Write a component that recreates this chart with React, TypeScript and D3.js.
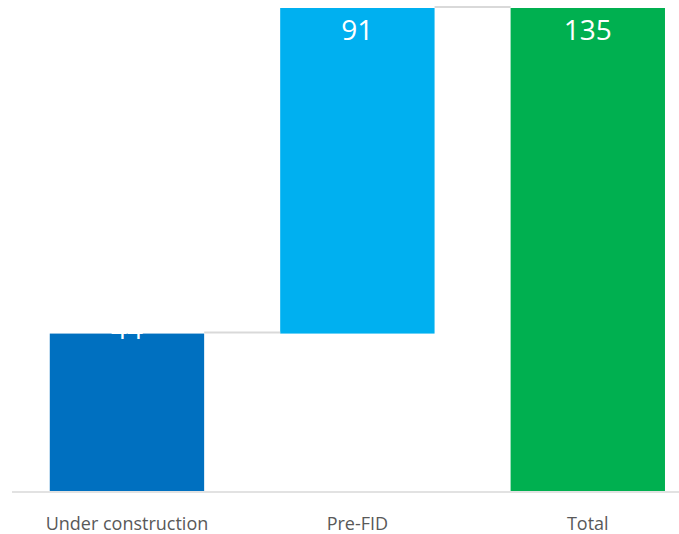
import React from "react";
import * as d3 from "d3";

// Waterfall: two stages stacking up to the total
const categories = ["Under construction", "Pre-FID", "Total"];
const stepValues = [44, 91, 135];
const isTotal = [false, false, true];
const barColors = ["#0070C0", "#00B0F0", "#00B050"];

const W = 679;
const H = 534;

export default function App() {
  // running base for each step bar
  const bases: number[] = [];
  let run = 0;
  stepValues.forEach((v, i) => {
    if (isTotal[i]) {
      bases.push(0);
    } else {
      bases.push(run);
      run += v;
    }
  });

  const x = d3
    .scaleBand<string>()
    .domain(categories)
    .range([11.75, 703])
    .paddingInner(0.33)
    .paddingOuter(0.165);

  const y = d3.scaleLinear().domain([0, 135]).range([491, 8]);

  const font = "'Open Sans', 'Liberation Sans', sans-serif";

  return (
    <svg
      width={W}
      height={H}
      viewBox={`0 0 ${W} ${H}`}
      style={{ position: "absolute", left: 0, top: 0, background: "#fff" }}
    >
      {/* bars */}
      {categories.map((c, i) => {
        const y0 = y(bases[i]);
        const y1 = y(bases[i] + stepValues[i]);
        return (
          <rect
            key={c}
            x={x(c)}
            y={y1}
            width={x.bandwidth()}
            height={y0 - y1}
            fill={barColors[i]}
          />
        );
      })}

      {/* connectors between consecutive bar tops */}
      {categories.slice(0, -1).map((c, i) => {
        const level = bases[i] + stepValues[i];
        const next = categories[i + 1];
        return (
          <line
            key={`conn-${c}`}
            x1={(x(c) as number) + x.bandwidth()}
            x2={x(next) as number}
            y1={y(level) - 1}
            y2={y(level) - 1}
            stroke="#d9d9d9"
            strokeWidth={2}
          />
        );
      })}

      {/* axis line */}
      <line x1={12} x2={W} y1={492} y2={492} stroke="#d9d9d9" strokeWidth={1.5} />

      {/* value labels */}
      {categories.map((c, i) => {
        const top = y(bases[i] + stepValues[i]);
        const cx = (x(c) as number) + x.bandwidth() / 2;
        const ty = i === 0 ? top + 5.5 : top + 32;
        return (
          <text
            key={`lab-${c}`}
            x={cx}
            y={ty}
            textAnchor="middle"
            fill="#ffffff"
            fontFamily={font}
            fontSize={28}
          >
            {stepValues[i]}
          </text>
        );
      })}

      {/* category labels */}
      {categories.map((c) => (
        <text
          key={`cat-${c}`}
          x={(x(c) as number) + x.bandwidth() / 2}
          y={530}
          textAnchor="middle"
          fill="#595959"
          fontFamily={font}
          fontSize={18}
        >
          {c}
        </text>
      ))}
    </svg>
  );
}
